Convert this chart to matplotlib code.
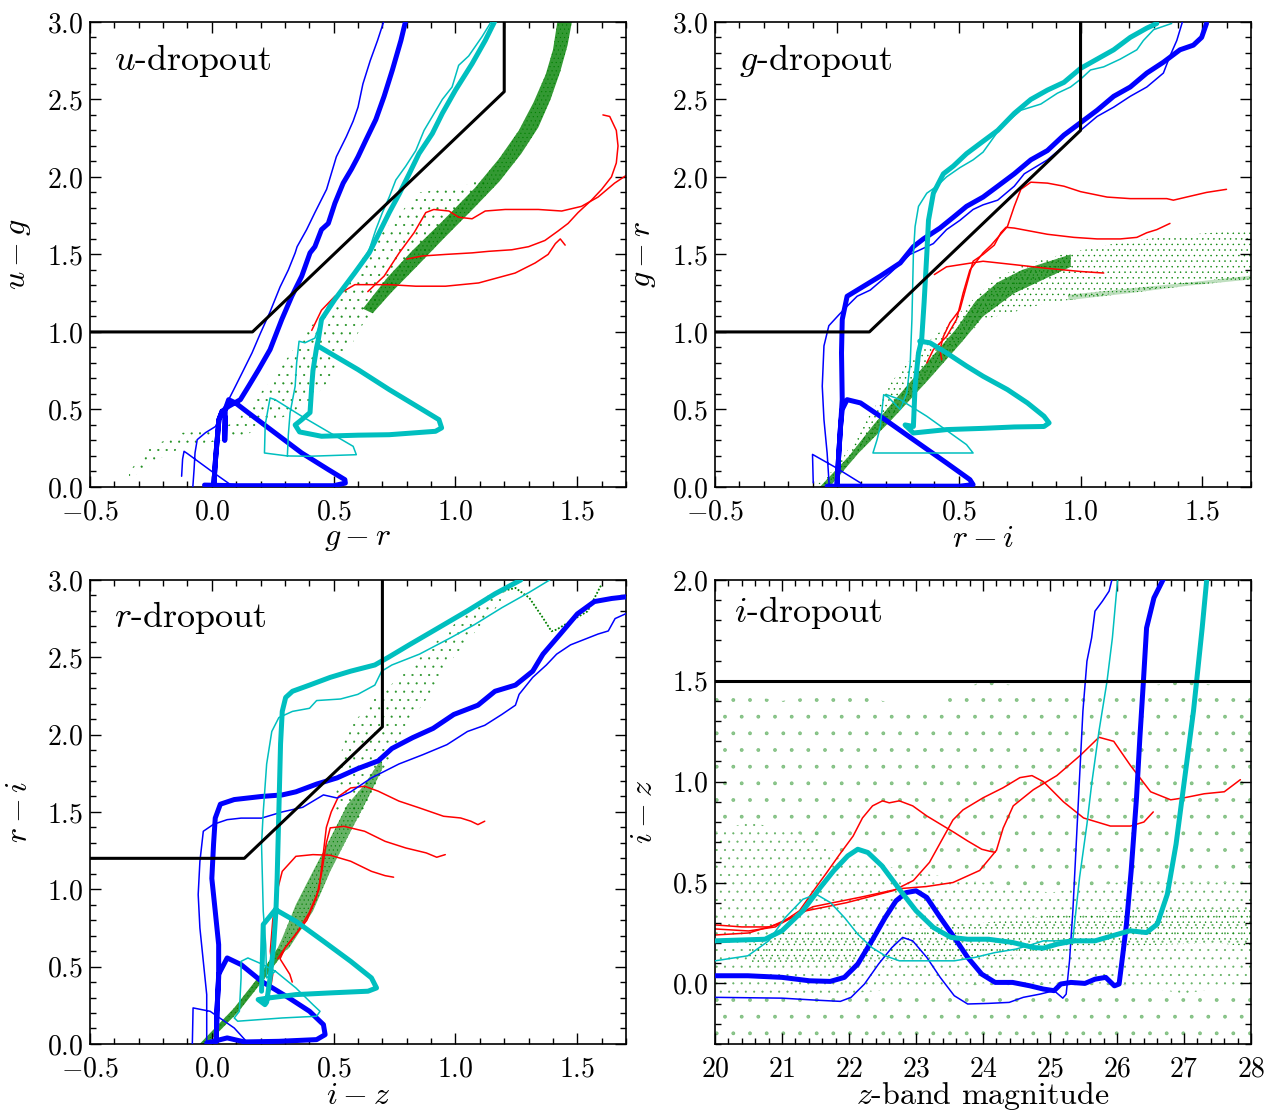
import numpy as np
import matplotlib
matplotlib.use('Agg')
import matplotlib.pyplot as plt
from matplotlib.patches import Polygon
from matplotlib.ticker import MultipleLocator

plt.rcParams['font.family'] = 'serif'
plt.rcParams['font.serif'] = ['cmr10']
plt.rcParams['mathtext.fontset'] = 'cm'
plt.rcParams['axes.formatter.use_mathtext'] = True
plt.rcParams['hatch.linewidth'] = 0.3

GREEN = (0.0, 0.5, 0.0)
CYAN = '#00bfbf'

# ---------------- u-dropout (g-r, u-g) ----------------
U_CUT = [(-0.5, 1.0), (0.1667, 1.0), (1.2, 2.55), (1.2, 3.0)]
U_BLUE_THICK = [(-0.03, 0.012), (0.10, 0.008), (0.30, 0.008), (0.50, 0.008), (0.548, 0.025), (0.546, 0.047),
                (0.478, 0.112), (0.369, 0.219), (0.26, 0.348), (0.151, 0.477), (0.097, 0.542), (0.069, 0.563),
                (0.055, 0.50), (0.053, 0.30), (0.055, 0.45), (0.042, 0.488), (0.029, 0.434), (0.022, 0.305),
                (0.015, 0.176), (0.008, 0.01), (0.015, 0.176), (0.022, 0.305), (0.029, 0.434), (0.042, 0.488),
                (0.069, 0.52), (0.117, 0.563), (0.151, 0.65), (0.192, 0.757), (0.239, 0.886), (0.287, 1.08),
                (0.328, 1.23), (0.369, 1.36), (0.403, 1.51), (0.423, 1.55), (0.45, 1.66), (0.478, 1.70),
                (0.505, 1.83), (0.539, 1.96), (0.573, 2.05), (0.60, 2.13), (0.633, 2.24), (0.673, 2.37),
                (0.707, 2.52), (0.741, 2.69), (0.776, 2.88), (0.796, 3.01)]
U_BLUE_THIN = [(-0.124, 0.069), (-0.12, 0.18), (-0.114, 0.23), (-0.10, 0.215), (0.0, 0.10), (0.09, 0.0),
               (0.15, -0.08), (0.0, -0.1), (-0.078, -0.02), (-0.078, 0.0), (-0.073, 0.11), (-0.069, 0.22),
               (-0.06, 0.305), (-0.026, 0.35), (0.015, 0.39), (0.035, 0.456), (0.049, 0.51), (0.069, 0.563),
               (0.097, 0.65), (0.124, 0.735), (0.165, 0.865), (0.199, 0.99), (0.239, 1.13), (0.280, 1.29),
               (0.314, 1.40), (0.342, 1.51), (0.35, 1.55), (0.389, 1.66), (0.423, 1.77), (0.471, 1.92),
               (0.511, 2.13), (0.552, 2.26), (0.58, 2.36), (0.60, 2.45), (0.62, 2.6), (0.65, 2.75),
               (0.68, 2.88), (0.707, 3.01)]
U_CYAN_THICK = [(1.163, 3.01), (1.122, 2.88), (1.068, 2.73), (1.0, 2.56), (0.946, 2.41), (0.905, 2.28),
                (0.85, 2.15), (0.81, 2.02), (0.769, 1.89), (0.728, 1.77), (0.687, 1.64), (0.646, 1.51),
                (0.586, 1.38), (0.505, 1.21), (0.45, 1.08), (0.437, 0.95), (0.43, 0.90), (0.415, 0.75),
                (0.41, 0.65), (0.403, 0.48), (0.369, 0.434), (0.342, 0.40), (0.36, 0.355), (0.45, 0.327),
                (0.60, 0.334), (0.728, 0.337), (0.918, 0.359), (0.943, 0.381), (0.932, 0.434), (0.864, 0.499),
                (0.728, 0.628), (0.60, 0.757), (0.44, 0.905)]
U_CYAN_THIN = [(1.15, 3.01), (1.109, 2.905), (1.054, 2.78), (1.013, 2.72), (0.986, 2.58), (0.946, 2.50),
               (0.905, 2.39), (0.871, 2.30), (0.837, 2.17), (0.796, 2.07), (0.755, 1.98), (0.728, 1.87),
               (0.70, 1.77), (0.673, 1.66), (0.646, 1.53), (0.60, 1.42), (0.532, 1.27), (0.478, 1.17),
               (0.45, 1.08), (0.423, 0.96), (0.382, 0.93), (0.358, 0.94), (0.348, 0.80), (0.342, 0.65),
               (0.321, 0.477), (0.314, 0.337), (0.31, 0.20), (0.216, 0.219), (0.219, 0.40), (0.239, 0.574),
               (0.26, 0.563), (0.369, 0.456), (0.58, 0.262), (0.593, 0.208), (0.40, 0.198), (0.31, 0.20)]
U_RED = [
    [(1.605, 2.40), (1.633, 2.39), (1.66, 2.30), (1.667, 2.20), (1.66, 2.09), (1.64, 2.0), (1.60, 1.92),
     (1.558, 1.85), (1.503, 1.77), (1.462, 1.70), (1.42, 1.65), (1.367, 1.59), (1.30, 1.55), (1.231, 1.53),
     (1.136, 1.52), (1.068, 1.51), (0.959, 1.50), (0.864, 1.49), (0.80, 1.47)],
    [(0.41, 1.01), (0.45, 1.14), (0.505, 1.23), (0.587, 1.305), (0.728, 1.305), (0.837, 1.295), (0.959, 1.295),
     (1.095, 1.316), (1.245, 1.38), (1.327, 1.445), (1.38, 1.50), (1.41, 1.57), (1.43, 1.60), (1.45, 1.56)],
    [(0.64, 1.26), (0.707, 1.36), (0.769, 1.51), (0.83, 1.64), (0.878, 1.77), (0.911, 1.79), (0.973, 1.78),
     (1.013, 1.74), (1.068, 1.73), (1.122, 1.78), (1.204, 1.79), (1.34, 1.79), (1.436, 1.78), (1.517, 1.81),
     (1.585, 1.87), (1.653, 1.96), (1.72, 2.03)],
]
# stellar locus outlines: (upper/left edge, lower/right edge)
U_LOCUS_SPARSE = ([(-0.34, 0.10), (-0.25, 0.26), (-0.12, 0.35), (0.0, 0.36), (0.10, 0.42), (0.17, 0.55),
                   (0.25, 0.70), (0.35, 0.92), (0.45, 1.12), (0.55, 1.32), (0.62, 1.48), (0.70, 1.64),
                   (0.78, 1.78), (0.85, 1.90), (0.95, 1.92), (1.05, 1.95), (1.12, 2.00)],
                  [(-0.34, 0.05), (-0.22, 0.18), (-0.1, 0.27), (0.0, 0.29), (0.12, 0.32), (0.22, 0.40),
                   (0.32, 0.47), (0.42, 0.58), (0.50, 0.72), (0.56, 0.88), (0.62, 1.05), (0.70, 1.22),
                   (0.80, 1.38), (0.90, 1.55), (1.0, 1.70), (1.12, 1.92)])
U_LOCUS_DENSE = ([(0.62, 1.15), (0.72, 1.35), (0.82, 1.52), (0.95, 1.72), (1.08, 1.93), (1.18, 2.12),
                  (1.26, 2.30), (1.32, 2.48), (1.37, 2.66), (1.40, 2.82), (1.42, 3.02)],
                 [(0.66, 1.12), (0.74, 1.26), (0.84, 1.42), (0.95, 1.60), (1.07, 1.79), (1.18, 1.97),
                  (1.27, 2.15), (1.34, 2.32), (1.39, 2.50), (1.43, 2.68), (1.46, 2.85), (1.48, 3.02)])

# ---------------- g-dropout (r-i, g-r) ----------------
G_CUT = [(-0.5, 1.0), (0.1333, 1.0), (1.0, 2.3), (1.0, 3.0)]
G_BLUE_THICK = [(1.517, 2.99), (1.497, 2.90), (1.463, 2.85), (1.408, 2.82), (1.34, 2.74), (1.272, 2.67),
                (1.204, 2.58), (1.136, 2.52), (1.068, 2.43), (1.0, 2.35), (0.932, 2.27), (0.864, 2.17),
                (0.796, 2.11), (0.728, 2.02), (0.66, 1.94), (0.60, 1.87), (0.532, 1.81), (0.478, 1.74),
                (0.423, 1.67), (0.355, 1.60), (0.314, 1.55), (0.26, 1.445), (0.178, 1.36), (0.11, 1.295),
                (0.042, 1.23), (0.022, 1.08), (0.019, 0.865), (0.022, 0.563), (0.015, 0.39), (0.008, 0.219),
                (0.001, 0.026), (0.008, 0.219), (0.015, 0.39), (0.022, 0.50), (0.042, 0.563), (0.097, 0.542),
                (0.178, 0.456), (0.314, 0.305), (0.45, 0.155), (0.546, 0.047), (0.559, 0.015), (0.505, 0.005),
                (0.30, 0.005), (0.10, 0.005), (-0.04, 0.005)]
G_BLUE_THIN = [(1.42, 3.01), (1.395, 2.88), (1.367, 2.78), (1.34, 2.67), (1.272, 2.58), (1.204, 2.52),
               (1.136, 2.45), (1.068, 2.39), (1.0, 2.30), (0.932, 2.20), (0.864, 2.11), (0.769, 2.02),
               (0.728, 1.94), (0.66, 1.85), (0.60, 1.82), (0.559, 1.79), (0.505, 1.72), (0.45, 1.66),
               (0.396, 1.57), (0.342, 1.53), (0.30, 1.50), (0.219, 1.38), (0.137, 1.27), (0.083, 1.23),
               (0.042, 1.166), (0.008, 1.11), (-0.033, 1.04), (-0.053, 0.91), (-0.06, 0.65), (-0.053, 0.434),
               (-0.04, 0.219), (-0.033, 0.047), (-0.03, -0.05), (0.12, -0.05), (0.097, 0.026), (-0.01, 0.13),
               (-0.10, 0.21), (-0.097, 0.026)]
G_CYAN_THICK = [(1.313, 2.99), (1.272, 2.96), (1.204, 2.90), (1.136, 2.82), (1.068, 2.76), (1.0, 2.70),
                (0.932, 2.61), (0.864, 2.56), (0.796, 2.50), (0.728, 2.41), (0.66, 2.30), (0.60, 2.23),
                (0.532, 2.15), (0.478, 2.07), (0.437, 2.02), (0.396, 1.895), (0.376, 1.72), (0.369, 1.50),
                (0.358, 1.19), (0.348, 0.95), (0.335, 0.865), (0.321, 0.65), (0.314, 0.39), (0.28, 0.40),
                (0.314, 0.348), (0.45, 0.37), (0.60, 0.378), (0.728, 0.387), (0.85, 0.39), (0.871, 0.413),
                (0.85, 0.456), (0.782, 0.542), (0.70, 0.628), (0.60, 0.714), (0.532, 0.78), (0.45, 0.865),
                (0.382, 0.93), (0.34, 0.94)]
G_CYAN_THIN = [(1.374, 2.99), (1.30, 2.95), (1.258, 2.88), (1.231, 2.82), (1.163, 2.76), (1.095, 2.71),
               (1.041, 2.69), (1.0, 2.63), (0.959, 2.58), (0.905, 2.54), (0.837, 2.47), (0.755, 2.43),
               (0.673, 2.32), (0.60, 2.16), (0.559, 2.11), (0.505, 2.06), (0.45, 2.0), (0.41, 1.94),
               (0.369, 1.895), (0.335, 1.81), (0.321, 1.68), (0.314, 1.50), (0.308, 1.08), (0.301, 0.80),
               (0.287, 0.606), (0.26, 0.50), (0.21, 0.58), (0.192, 0.595), (0.178, 0.39), (0.165, 0.305),
               (0.148, 0.219), (0.205, 0.219), (0.559, 0.219), (0.532, 0.273), (0.369, 0.456), (0.26, 0.563),
               (0.205, 0.595)]
G_RED = [
    [(0.43, 0.82), (0.423, 0.886), (0.437, 0.97), (0.464, 1.06), (0.505, 1.144), (0.539, 1.34), (0.559, 1.456),
     (0.60, 1.50), (0.646, 1.56), (0.673, 1.64), (0.694, 1.675), (0.728, 1.67), (0.796, 1.65), (0.864, 1.63),
     (0.973, 1.61), (1.068, 1.60), (1.163, 1.60), (1.231, 1.61), (1.272, 1.64), (1.313, 1.66), (1.367, 1.70)],
    [(0.369, 0.80), (0.396, 0.886), (0.45, 0.97), (0.491, 1.08), (0.518, 1.25), (0.546, 1.40), (0.60, 1.51),
     (0.633, 1.56), (0.70, 1.68), (0.728, 1.81), (0.755, 1.92), (0.796, 1.966), (0.864, 1.96), (0.932, 1.94),
     (1.0, 1.905), (1.109, 1.87), (1.204, 1.86), (1.272, 1.86), (1.354, 1.86), (1.381, 1.85), (1.435, 1.87),
     (1.517, 1.90), (1.599, 1.92)],
    [(0.40, 1.37), (0.45, 1.42), (0.532, 1.44), (0.60, 1.456), (0.728, 1.434), (0.864, 1.41), (1.0, 1.39),
     (1.095, 1.38)],
]
G_LOCUS_SPARSE = ([(-0.09, 0.0), (0.0, 0.13), (0.05, 0.25), (0.14, 0.48), (0.23, 0.69), (0.34, 0.89),
                   (0.45, 1.04), (0.56, 1.21), (0.65, 1.34), (0.75, 1.42), (0.85, 1.47), (0.95, 1.51),
                   (1.14, 1.57), (1.34, 1.615), (1.54, 1.64), (1.71, 1.66)],
                  [(-0.04, 0.0), (0.083, 0.22), (0.22, 0.434), (0.37, 0.69), (0.505, 0.93), (0.60, 1.08),
                   (0.73, 1.13), (0.86, 1.187), (0.97, 1.21), (1.04, 1.23), (1.27, 1.27), (1.48, 1.31),
                   (1.71, 1.34)])
G_LOCUS_DENSE = ([(-0.07, 0.0), (0.05, 0.2), (0.15, 0.40), (0.27, 0.62), (0.39, 0.84), (0.49, 1.02),
                  (0.57, 1.20), (0.66, 1.32), (0.76, 1.40), (0.86, 1.45), (0.96, 1.50)],
                 [(-0.03, 0.0), (0.09, 0.22), (0.225, 0.434), (0.375, 0.69), (0.51, 0.93), (0.60, 1.10),
                  (0.728, 1.25), (0.864, 1.35), (0.96, 1.42)])
G_LOCUS_RIDGE = ([(0.95, 1.24), (1.2, 1.28), (1.45, 1.32), (1.71, 1.365)],
                 [(0.95, 1.205), (1.2, 1.25), (1.45, 1.30), (1.71, 1.34)])

# ---------------- r-dropout (i-z, r-i) ----------------
R_CUT = [(-0.5, 1.2), (0.1333, 1.2), (0.7, 2.05), (0.7, 3.0)]
R_BLUE_THICK = [(1.72, 2.90), (1.697, 2.89), (1.641, 2.88), (1.570, 2.86), (1.5, 2.78), (1.430, 2.65),
                (1.359, 2.52), (1.317, 2.41), (1.246, 2.32), (1.162, 2.28), (1.092, 2.19), (0.993, 2.13),
                (0.908, 2.04), (0.824, 1.98), (0.739, 1.91), (0.683, 1.83), (0.599, 1.78), (0.514, 1.72),
                (0.43, 1.68), (0.345, 1.63), (0.289, 1.61), (0.204, 1.60), (0.092, 1.58), (0.035, 1.55),
                (0.014, 1.46), (0.007, 1.29), (0.0, 1.07), (0.014, 0.858), (0.028, 0.642), (0.028, 0.427),
                (0.021, 0.211), (0.018, 0.017), (0.021, 0.211), (0.028, 0.45), (0.063, 0.556), (0.12, 0.513),
                (0.204, 0.405), (0.317, 0.297), (0.401, 0.211), (0.458, 0.125), (0.465, 0.06), (0.43, 0.028),
                (0.275, 0.017), (0.134, 0.013), (0.063, 0.039), (-0.021, 0.006)]
R_BLUE_THIN = [(1.72, 2.80), (1.697, 2.78), (1.655, 2.75), (1.627, 2.67), (1.585, 2.65), (1.472, 2.58),
               (1.415, 2.52), (1.373, 2.45), (1.317, 2.37), (1.261, 2.26), (1.246, 2.19), (1.19, 2.13),
               (1.12, 2.06), (1.049, 2.02), (0.965, 1.935), (0.866, 1.87), (0.768, 1.81), (0.655, 1.72),
               (0.570, 1.63), (0.514, 1.59), (0.458, 1.61), (0.373, 1.53), (0.289, 1.50), (0.204, 1.46),
               (0.12, 1.46), (0.063, 1.45), (0.007, 1.42), (-0.035, 1.375), (-0.049, 1.18), (-0.056, 0.966),
               (-0.049, 0.75), (-0.035, 0.534), (-0.021, 0.319), (-0.021, 0.0), (0.0, -0.05), (0.17, -0.03),
               (0.148, 0.006), (0.092, 0.103), (-0.007, 0.211), (-0.077, 0.233), (-0.08, 0.0)]
R_CYAN_THICK = [(1.268, 3.0), (1.162, 2.91), (1.049, 2.80), (0.908, 2.67), (0.81, 2.58), (0.725, 2.50),
                (0.669, 2.45), (0.57, 2.41), (0.486, 2.37), (0.401, 2.32), (0.331, 2.28), (0.303, 2.24),
                (0.289, 2.15), (0.282, 1.94), (0.275, 1.50), (0.268, 1.07), (0.263, 0.858), (0.254, 0.642),
                (0.239, 0.427), (0.225, 0.27), (0.218, 0.254), (0.19, 0.287), (0.232, 0.297), (0.345, 0.319),
                (0.486, 0.330), (0.641, 0.341), (0.676, 0.362), (0.655, 0.427), (0.57, 0.534), (0.458, 0.664),
                (0.345, 0.793), (0.261, 0.869), (0.211, 0.772), (0.204, 0.341)]
R_CYAN_THIN = [(1.387, 3.0), (1.303, 2.92), (1.19, 2.82), (1.077, 2.71), (0.979, 2.625), (0.852, 2.52),
               (0.739, 2.45), (0.697, 2.41), (0.669, 2.32), (0.599, 2.26), (0.528, 2.23), (0.43, 2.22),
               (0.401, 2.17), (0.331, 2.15), (0.275, 2.11), (0.246, 2.02), (0.225, 1.81), (0.211, 1.50),
               (0.204, 1.29), (0.211, 0.858), (0.221, 0.642), (0.225, 0.427), (0.261, 0.47), (0.345, 0.362),
               (0.415, 0.254), (0.444, 0.211), (0.43, 0.179), (0.289, 0.168), (0.106, 0.147), (0.092, 0.168),
               (0.113, 0.211), (0.12, 0.427), (0.12, 0.534), (0.148, 0.556), (0.20, 0.52), (0.261, 0.47)]
R_RED = [
    [(0.27, 0.55), (0.30, 0.62), (0.35, 0.72), (0.40, 0.85), (0.44, 1.00), (0.455, 1.20), (0.47, 1.40),
     (0.49, 1.50), (0.52, 1.60), (0.570, 1.655), (0.627, 1.666), (0.683, 1.634), (0.768, 1.57), (0.852, 1.526),
     (0.951, 1.472), (1.021, 1.461), (1.063, 1.44), (1.092, 1.418), (1.12, 1.44)],
    [(0.33, 0.40), (0.32, 0.45), (0.30, 0.50), (0.28, 0.55), (0.30, 0.62), (0.34, 0.70), (0.39, 0.80),
     (0.43, 0.95), (0.45, 1.10), (0.47, 1.30), (0.486, 1.397), (0.542, 1.407), (0.627, 1.375), (0.711, 1.31),
     (0.796, 1.267), (0.880, 1.235), (0.923, 1.207), (0.958, 1.224)],
    [(0.22, 0.30), (0.24, 0.35), (0.25, 0.45), (0.24, 0.60), (0.25, 0.80), (0.27, 1.0), (0.289, 1.116),
     (0.345, 1.213), (0.415, 1.224), (0.486, 1.22), (0.570, 1.181), (0.655, 1.116), (0.711, 1.088),
     (0.746, 1.078)],
]
R_LOCUS_THIN = ([(-0.05, 0.0), (0.09, 0.23), (0.19, 0.43), (0.27, 0.62)],
                [(-0.02, 0.0), (0.11, 0.21), (0.215, 0.42), (0.30, 0.60)])
R_LOCUS_DENSE = ([(0.27, 0.62), (0.289, 0.685), (0.345, 0.901), (0.415, 1.116), (0.486, 1.33), (0.556, 1.547),
                  (0.627, 1.677), (0.697, 1.849)],
                 [(0.30, 0.60), (0.317, 0.62), (0.415, 0.858), (0.486, 1.116), (0.570, 1.375), (0.641, 1.59),
                  (0.70, 1.78)])
R_LOCUS_SPARSE = ([(0.50, 1.50), (0.542, 2.0), (0.655, 2.216), (0.768, 2.366), (0.908, 2.58), (1.021, 2.754),
                   (1.12, 2.884), (1.2, 2.95)],
                  [(0.60, 1.45), (0.697, 1.72), (0.796, 2.043), (0.894, 2.259), (0.979, 2.474), (1.10, 2.70),
                   (1.2, 2.88)])
R_LOCUS_ARC = [(1.13, 2.89), (1.20, 2.93), (1.246, 2.948), (1.303, 2.884), (1.359, 2.754), (1.394, 2.668),
               (1.415, 2.679), (1.472, 2.733), (1.542, 2.797), (1.599, 2.97)]

# ---------------- i-dropout (z mag, i-z) ----------------
I_CUT = [(20.0, 1.5), (28.0, 1.5)]
I_BLUE_THICK = [(20.0, 0.038), (20.49, 0.038), (21.0, 0.030), (21.41, 0.013), (21.72, 0.010), (21.93, 0.030),
                (22.13, 0.096), (22.34, 0.211), (22.54, 0.327), (22.70, 0.409), (22.85, 0.450), (23.00, 0.459),
                (23.16, 0.426), (23.36, 0.327), (23.57, 0.228), (23.77, 0.129), (23.98, 0.046), (24.18, 0.005),
                (24.44, 0.005), (24.70, -0.012), (24.90, -0.028), (25.06, -0.036), (25.16, -0.003),
                (25.31, 0.005), (25.52, 0.0), (25.67, 0.021), (25.83, 0.030), (25.96, -0.012), (26.03, -0.003),
                (26.08, 0.129), (26.14, 0.294), (26.21, 0.558), (26.29, 0.921), (26.34, 1.218), (26.39, 1.482),
                (26.44, 1.762), (26.55, 1.911), (26.70, 2.01)]
I_BLUE_THIN = [(20.0, -0.069), (21.0, -0.073), (21.51, -0.083), (21.87, -0.089), (22.03, -0.069),
               (22.23, -0.003), (22.44, 0.096), (22.64, 0.178), (22.80, 0.228), (22.95, 0.211), (23.16, 0.129),
               (23.36, 0.030), (23.57, -0.061), (23.77, -0.102), (24.08, -0.099), (24.39, -0.094),
               (24.60, -0.069), (24.85, -0.053), (25.06, -0.036), (25.19, -0.073), (25.24, -0.053),
               (25.29, 0.112), (25.34, 0.360), (25.39, 0.690), (25.44, 1.020), (25.49, 1.350), (25.55, 1.597),
               (25.62, 1.713), (25.67, 1.845), (25.78, 1.894), (25.88, 1.944), (25.93, 2.01)]
I_CYAN_THICK = [(20.0, 0.211), (20.745, 0.219), (21.0, 0.261), (21.31, 0.360), (21.57, 0.475), (21.77, 0.558),
                (21.98, 0.632), (22.13, 0.665), (22.28, 0.649), (22.49, 0.583), (22.75, 0.467), (23.00, 0.360),
                (23.26, 0.277), (23.52, 0.228), (23.77, 0.219), (24.08, 0.219), (24.44, 0.203), (24.75, 0.178),
                (24.90, 0.175), (25.11, 0.195), (25.37, 0.211), (25.67, 0.211), (25.93, 0.236), (26.19, 0.261),
                (26.44, 0.252), (26.60, 0.294), (26.75, 0.442), (26.88, 0.690), (27.01, 1.020), (27.14, 1.350),
                (27.27, 1.762), (27.34, 2.01)]
I_CYAN_THIN = [(20.0, 0.112), (20.49, 0.137), (20.80, 0.211), (21.05, 0.327), (21.31, 0.417), (21.51, 0.442),
               (21.72, 0.401), (21.93, 0.327), (22.13, 0.244), (22.34, 0.178), (22.54, 0.137), (22.75, 0.112),
               (23.06, 0.112), (23.57, 0.112), (23.88, 0.129), (24.18, 0.153), (24.49, 0.170), (24.75, 0.195),
               (24.90, 0.211), (25.11, 0.211), (25.34, 0.219), (25.44, 0.525), (25.55, 0.789), (25.62, 0.987),
               (25.73, 1.251), (25.85, 1.498), (25.93, 1.713), (26.01, 2.01)]
I_RED = [
    [(20.0, 0.27), (20.5, 0.26), (20.9, 0.28), (21.26, 0.36), (21.46, 0.455), (21.66, 0.546), (21.86, 0.64),
     (22.06, 0.73), (22.2, 0.82), (22.35, 0.88), (22.5, 0.905), (22.6, 0.895), (22.75, 0.905), (22.95, 0.88),
     (23.16, 0.83), (23.36, 0.79), (23.57, 0.748), (23.77, 0.706), (23.98, 0.665), (24.1, 0.655),
     (24.18, 0.65)],
    [(20.0, 0.29), (20.4, 0.28), (20.82, 0.28), (21.36, 0.36), (21.96, 0.40), (22.66, 0.46), (22.96, 0.51),
     (23.2, 0.6), (23.4, 0.72), (23.55, 0.81), (23.7, 0.86), (24.0, 0.92), (24.3, 0.97), (24.55, 1.02),
     (24.73, 1.03), (24.9, 1.0), (25.2, 0.9), (25.5, 0.82), (25.7, 0.8), (25.9, 0.78), (26.2, 0.78),
     (26.4, 0.8), (26.54, 0.85)],
    [(20.0, 0.24), (20.5, 0.25), (21.0, 0.3), (21.46, 0.38), (22.21, 0.43), (22.76, 0.47), (23.15, 0.48),
     (23.55, 0.5), (23.95, 0.56), (24.2, 0.66), (24.3, 0.77), (24.45, 0.88), (24.75, 0.96), (25.1, 1.03),
     (25.45, 1.13), (25.73, 1.22), (25.95, 1.2), (26.2, 1.08), (26.5, 0.95), (26.8, 0.91), (27.0, 0.92),
     (27.3, 0.94), (27.6, 0.95), (27.84, 1.01)],
]
# field-star cloud, stacked in bands from top to bottom
I_FIELD_TOP = [(20.0, 1.45), (21.0, 1.40), (22.0, 1.45), (23.0, 1.35), (24.0, 1.50), (25.0, 1.45),
               (26.0, 1.45), (27.0, 1.50), (28.0, 1.45)]
I_FIELD_MID_TOP = [(20.0, 0.75), (20.5, 0.80), (21.2, 0.75), (22.0, 0.62), (23.0, 0.55), (24.0, 0.50),
                   (25.0, 0.45), (26.0, 0.50), (27.0, 0.50), (28.0, 0.50)]
I_FIELD_MID_BOTTOM = [(20.0, -0.05), (21.0, -0.05), (22.0, -0.05), (23.0, -0.02), (24.0, 0.0), (25.0, 0.0),
                      (26.0, 0.0), (27.0, -0.05), (28.0, 0.0)]
I_FIELD_BOTTOM = [(20.0, -0.3), (28.0, -0.3)]
I_FIELD_DENSE = ([(20.5, 0.24), (21.5, 0.26), (22.5, 0.26), (23.5, 0.28), (24.5, 0.32), (25.5, 0.35),
                  (26.5, 0.37), (27.5, 0.38), (28.0, 0.37)],
                 [(20.5, 0.10), (21.5, 0.10), (22.5, 0.11), (23.5, 0.12), (24.5, 0.14), (25.5, 0.17),
                  (26.5, 0.19), (27.5, 0.20), (28.0, 0.18)])


def locus(ax, edges, hatch, fill_alpha=0.0, alpha=1.0):
    upper, lower = edges
    pts = np.array(list(upper) + list(lower)[::-1])
    ax.add_patch(Polygon(pts, closed=True, facecolor=GREEN + (fill_alpha,),
                         edgecolor=GREEN + (alpha,), linewidth=0, hatch=hatch, zorder=1))


def track(ax, pts, color, lw, z):
    a = np.array(pts)
    ax.plot(a[:, 0], a[:, 1], color=color, lw=lw, zorder=z, solid_capstyle='round')


def tracks(ax, blue_thick, blue_thin, cyan_thick, cyan_thin, reds, cut):
    for r in reds:
        track(ax, r, 'r', 1.1, 2)
    track(ax, blue_thin, 'b', 1.1, 3)
    track(ax, blue_thick, 'b', 3.6, 3)
    track(ax, cyan_thin, CYAN, 1.1, 4)
    track(ax, cyan_thick, CYAN, 3.6, 4)
    c = np.array(cut)
    ax.plot(c[:, 0], c[:, 1], color='k', lw=2.2, zorder=5)


def style(ax, xmaj, xmin, ymaj, ymin):
    ax.xaxis.set_major_locator(MultipleLocator(xmaj))
    ax.xaxis.set_minor_locator(MultipleLocator(xmin))
    ax.yaxis.set_major_locator(MultipleLocator(ymaj))
    ax.yaxis.set_minor_locator(MultipleLocator(ymin))
    ax.tick_params(which='both', direction='in', top=True, right=True, width=1.0)
    ax.tick_params(which='major', length=8, labelsize=20)
    ax.tick_params(which='minor', length=4)
    ax.tick_params(axis='x', which='major', pad=9)
    ax.tick_params(axis='y', which='major', pad=5)
    for s in ax.spines.values():
        s.set_linewidth(1.2)


def labels(ax, xlab, ylab, tag, tx, ty):
    ax.set_xlabel(xlab, fontsize=23)
    ax.xaxis.set_label_coords(0.5, -0.113)
    ax.xaxis.label.set_va('center')
    ax.set_ylabel(ylab, fontsize=23, labelpad=10)
    ax.text(tx, ty, tag, transform=ax.transAxes, fontsize=26)


fig = plt.figure(figsize=(12.73, 11.12), dpi=100)
ax1 = fig.add_axes([0.0707, 0.5621, 0.4211, 0.4182])
ax2 = fig.add_axes([0.5617, 0.5621, 0.4211, 0.4182])
ax3 = fig.add_axes([0.0707, 0.0612, 0.4211, 0.4173])
ax4 = fig.add_axes([0.5617, 0.0612, 0.4211, 0.4173])

# u-dropout
locus(ax1, U_LOCUS_SPARSE, '..', alpha=0.85)
locus(ax1, U_LOCUS_DENSE, '....', fill_alpha=0.8)
tracks(ax1, U_BLUE_THICK, U_BLUE_THIN, U_CYAN_THICK, U_CYAN_THIN, U_RED, U_CUT)
ax1.set_xlim(-0.5, 1.7)
ax1.set_ylim(0.0, 3.0)
labels(ax1, r'$g-r$', r'$u-g$', r'$u$-dropout', 0.045, 0.897)

# g-dropout
locus(ax2, G_LOCUS_SPARSE, '...', alpha=1.0)
locus(ax2, G_LOCUS_DENSE, '....', fill_alpha=0.75)
locus(ax2, G_LOCUS_RIDGE, '....', fill_alpha=0.25)
tracks(ax2, G_BLUE_THICK, G_BLUE_THIN, G_CYAN_THICK, G_CYAN_THIN, G_RED, G_CUT)
ax2.set_xlim(-0.5, 1.7)
ax2.set_ylim(0.0, 3.0)
labels(ax2, r'$r-i$', r'$g-r$', r'$g$-dropout', 0.045, 0.897)

# r-dropout
locus(ax3, R_LOCUS_THIN, '....', fill_alpha=0.8)
locus(ax3, R_LOCUS_DENSE, '....', fill_alpha=0.6)
locus(ax3, R_LOCUS_SPARSE, '..', alpha=0.8)
arc = np.array(R_LOCUS_ARC)
ax3.plot(arc[:, 0], arc[:, 1], color=GREEN, lw=1.3, ls=(0, (1, 1)), zorder=1)
tracks(ax3, R_BLUE_THICK, R_BLUE_THIN, R_CYAN_THICK, R_CYAN_THIN, R_RED, R_CUT)
ax3.set_xlim(-0.5, 1.7)
ax3.set_ylim(0.0, 3.0)
labels(ax3, r'$i-z$', r'$r-i$', r'$r$-dropout', 0.045, 0.899)

# i-dropout
locus(ax4, (I_FIELD_TOP, I_FIELD_MID_TOP), '.', alpha=0.45)
locus(ax4, (I_FIELD_MID_TOP, I_FIELD_MID_BOTTOM), '..', alpha=0.55)
locus(ax4, (I_FIELD_MID_BOTTOM, I_FIELD_BOTTOM), '.', alpha=0.45)
locus(ax4, I_FIELD_DENSE, '...', alpha=0.9)
tracks(ax4, I_BLUE_THICK, I_BLUE_THIN, I_CYAN_THICK, I_CYAN_THIN, I_RED, I_CUT)
ax4.set_xlim(20, 28)
ax4.set_ylim(-0.3, 2.0)
labels(ax4, r'$z$-band magnitude', r'$i-z$', r'$i$-dropout', 0.035, 0.909)

style(ax1, 0.5, 0.1, 0.5, 0.1)
style(ax2, 0.5, 0.1, 0.5, 0.1)
style(ax3, 0.5, 0.1, 0.5, 0.1)
style(ax4, 1.0, 0.2, 0.5, 0.1)

fig.savefig('out.png', dpi=100)
